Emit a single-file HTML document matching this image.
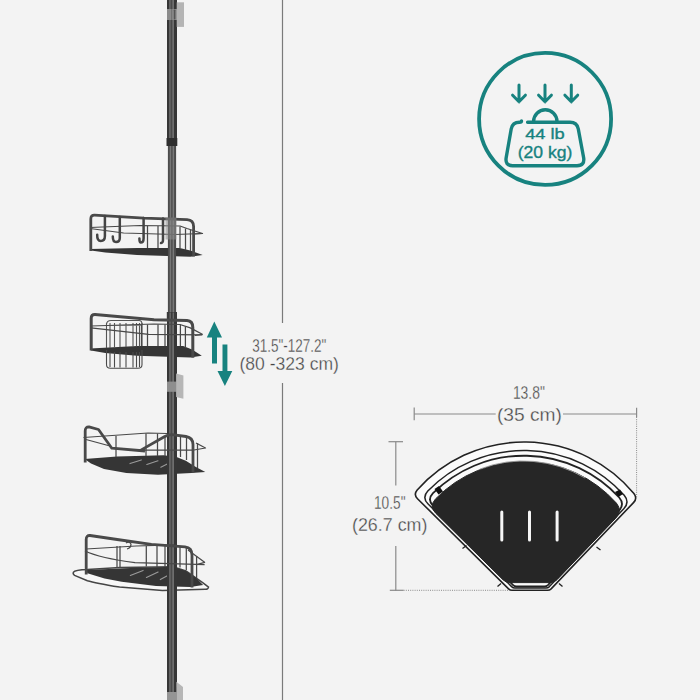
<!DOCTYPE html>
<html><head><meta charset="utf-8">
<style>
html,body{margin:0;padding:0;background:#f3f3f3;}
body{width:700px;height:700px;overflow:hidden;}
svg{display:block;}
text{font-family:"Liberation Sans",sans-serif;}
</style></head>
<body>
<svg width="700" height="700" viewBox="0 0 700 700">
<rect x="0" y="0" width="700" height="700" fill="#f3f3f3"/>
<!-- vertical dimension line -->
<g stroke="#7a7a7a" stroke-width="1.2">
<line x1="282.5" y1="0" x2="282.5" y2="323"/>
<line x1="282.5" y1="383" x2="282.5" y2="700"/>
</g>

<!-- trays -->
<g fill="#353535">
<path d="M90.2,248.9 L137,248 L179.7,248 L190.3,250.6 L202.7,255 L190.3,256.8 L137,255 L105.3,252.4 L91,250.6 Z"/>
<path d="M90.2,348.6 L137,346 L183.2,346 L192,349.5 L201.8,355.7 L190.3,357.5 L137,355.7 L105.3,353 L91,350.4 Z"/>
<path d="M84.6,459 L117,456.5 L163.6,455.2 L176.6,457 L185.8,460.8 L195,466.4 L205.3,472 L191.4,472.9 L158,474.7 L126.4,472.9 L104,469 L91,463.6 Z"/>
</g>
<!-- basket 4 ring + tray -->
<path d="M73.5,572.1 Q75,570 87.4,569.6 L120,567.5 L173,566.8 L186,571 L203,582.9 L208.5,587.1 Q208,589.5 205.3,589.3 L162.4,590.4 L119.6,587.1 Q95,583 87.4,580.7 L74.6,575.4 Q72.5,574 73.5,572.1 Z" stroke="#454545" stroke-width="1.5" fill="#f7f7f7"/>
<path d="M86.4,570 L130.3,567.9 L173,566.8 L186,571 L196.7,578.6 L203.1,585 L190.3,587.1 L156,586 L121.7,581.8 L104.6,578.6 L87.4,573.2 Z" fill="#353535"/>

<!-- slot highlights -->
<g stroke="#9a9a9a" stroke-width="1.1" stroke-linecap="round">
<path d="M130,463.6 L141.3,459.9 M146.8,464.5 L158,460.8 M160.8,467.3 L168.2,463.6"/>
<path d="M130.3,575.4 L143.1,570.4 M146.4,577.5 L158.1,572.1 M160.3,579.6 L167.8,575.4"/>
</g>

<!-- pole -->
<g id="pole">
<rect x="167" y="0" width="10" height="146" fill="#363636"/>
<rect x="169.2" y="0" width="1.6" height="146" fill="#6e6e6e"/>
<rect x="170.8" y="0" width="1.4" height="146" fill="#4a4a4a"/>
<rect x="172.2" y="0" width="1.8" height="146" fill="#6e6e6e"/>
<rect x="167.9" y="146" width="8.2" height="166" fill="#4b4b4b"/>
<rect x="169.7" y="146" width="1.5" height="166" fill="#767676"/>
<rect x="172.6" y="146" width="1.5" height="166" fill="#787878"/>
<rect x="167" y="312" width="10" height="388" fill="#363636"/>
<rect x="169.2" y="312" width="1.6" height="388" fill="#6e6e6e"/>
<rect x="170.8" y="312" width="1.4" height="388" fill="#4a4a4a"/>
<rect x="172.2" y="312" width="1.8" height="388" fill="#6e6e6e"/>
<rect x="166.5" y="138" width="10.8" height="8" fill="#2e2e2e"/>
<rect x="166.8" y="312" width="10.2" height="8" fill="#3a3a3a"/>
<rect x="169.5" y="312.5" width="1.4" height="7" fill="#6a6a6a"/>
<rect x="172.6" y="312.5" width="1.4" height="7" fill="#6a6a6a"/>
<rect x="167" y="9" width="10" height="11" fill="#8c8c8c"/>
<rect x="171.2" y="9" width="1" height="11" fill="#6e6e6e"/>
<rect x="173.8" y="9.5" width="1.6" height="10" fill="#555" rx="0.8"/>
<rect x="176.7" y="2.3" width="7.3" height="24.6" fill="#b4b4b4"/>
<rect x="167" y="381.6" width="9.5" height="10.2" fill="#8e8e8e"/>
<polygon points="176.1,373.4 183.4,375.5 183.4,398.7 176.1,397" fill="#b6b6b6"/>
<rect x="167" y="692" width="9.5" height="8" fill="#959595"/>
<polygon points="176.4,681.7 183,686.9 183,700 176.4,700" fill="#b6b6b6"/>
</g>

<!-- ===== BASKET 1 rails ===== -->
<g stroke="#484848" stroke-width="1.25" fill="none" stroke-linejoin="round">
<path d="M90,227.5 L140,225.5 L180,226 L187,228.5 L202.5,233.5 L195,234"/>
<path d="M90,228.5 L123.6,233 L175,234.5 L202.5,233.5"/>
<path d="M147.5,226 V248 M158,226 V248 M180,226.5 V248.5 M185.5,228.5 V250 M190.5,230 V251"/>
</g>
<path d="M90.8,251 V219 Q90.8,215 94.5,215.1 L144,218.2 L187,219.6 Q193.6,220 193.6,226.5 V256.5" stroke="#494949" stroke-width="2.8" fill="none"/>
<g stroke="#444" stroke-width="2.5" fill="none" stroke-linecap="round">
<path d="M104.9,216 V236 Q104.9,241 100.8,241 Q97,241 97.2,234.8"/>
<path d="M119.8,217 V238 Q119.8,242 116,242 Q112.8,242 112.8,236.5"/>
<path d="M143.6,218 V238.2 Q143.6,242.5 140.8,242.5 Q139.4,242.5 139.4,238.5"/>
<path d="M163,218.6 V239.5 Q163,243.2 161,243"/>
</g>
<rect x="165.5" y="217.5" width="11" height="22" fill="#8c8c8c" opacity="0.55"/>

<!-- ===== BASKET 2 rails ===== -->
<g stroke="#4a4a4a" stroke-width="1.1" fill="none">
<path d="M106.5,350 V364.5 Q106.5,368.3 110.5,368.3 H138 Q142,368.3 142,364.5 V350"/>
<path d="M110,352 V367 M114.5,352 V367.5 M120,352 V367.5 M126,352 V367.5 M133,352 V367.5 M136.5,352 V367.5 M139.5,352 V367"/>
</g>
<g stroke="#555" stroke-width="1.1" fill="none">
<path d="M106.5,323 V348 M110,323 V348 M114.5,323 V348 M120,323 V347 M126,323 V347 M133,323 V346.5 M136.5,323 V346.5 M139.5,323 V346.5 M142,323 V346"/>
<path d="M106.5,324 Q107,320.5 111,320.5 H139 Q142,320.5 142,324"/>
<path d="M107,325.5 H142" stroke="#777" stroke-width="0.8"/>
</g>
<g stroke="#484848" stroke-width="1.25" fill="none" stroke-linejoin="round">
<path d="M91,326 L154,324 L180,324.5 L190.3,327.9 L202.3,334.3 L195,335.5"/>
<path d="M91,327.8 L148.6,334.3 L202.3,334.8"/>
<path d="M141.5,324.5 V346 M147.5,324.5 V346 M158,324.5 V346 M165,324.5 V346 M180.4,324.5 V346 M185.4,326.5 V348"/>
</g>
<path d="M91.2,350.5 V318.5 Q91.2,314.3 95,314.4 L154,319.8 L187,320.6 Q192.8,321 192.8,327.5 V357.8" stroke="#494949" stroke-width="3" fill="none"/>

<!-- ===== BASKET 3 rails ===== -->
<g stroke="#484848" stroke-width="1.25" fill="none" stroke-linejoin="round">
<path d="M83.5,437.5 L148,433 L167,433.5"/>
<path d="M86,439.5 L110,446"/>
<path d="M140,450 L194,450 L205.5,448 L196,443"/>
<path d="M116,436 V457 M146,433.5 V456 M157.5,433.5 V456 M165,436 V456 M180.5,435 V457 M186.5,436 V460 M197.5,443 V468"/>
</g>
<path d="M85.2,462.5 V431 Q85.2,426.8 89,426.9 L98.5,429.5 L111.8,448.2 L145,451 M140,450.6 L164.3,436.8 Q168,434.6 172,434.6 L186,436.5 Q193,437.8 193,444.5 V472.5" stroke="#494949" stroke-width="2.8" fill="none" stroke-linejoin="round"/>

<!-- ===== BASKET 4 rails ===== -->
<g stroke="#484848" stroke-width="1.25" fill="none" stroke-linejoin="round">
<path d="M86,549 L136,546 L174,544.8"/>
<path d="M85,551 Q100,558 135,562.7 L204.6,564.6"/>
<path d="M188,550 L195.4,555.4 L204.6,562.3 L196.6,564.6"/>
<path d="M117,546 V568 M120,546 V568 M146.3,546 V566.5 M157,546 V567 M165,546 V567 M180,547 V567.5 M186.3,547.5 V570 M196.6,556 V578"/>
<path d="M126,543 Q129,541 131,544 Q131,548 127,549"/>
</g>
<path d="M86.2,574.5 V539.5 Q86.2,535.3 90,535.5 Q120,540 151.4,544.4 L185,546.8 Q192,547.6 192,555 V587.6" stroke="#494949" stroke-width="2.8" fill="none"/>
<!-- teal double arrow -->
<g fill="#17827f">
<polygon points="214.3,321.5 222,337.5 217,337.5 217,363.6 212,363.6 212,337.5 206.8,337.5"/>
<polygon points="224.9,386 232.3,371 227.4,371 227.4,344.5 222.5,344.5 222.5,371 217.5,371"/>
</g>
<!-- height text -->
<g fill="#444" font-size="18" stroke="#f3f3f3" stroke-width="0.3">
<text x="252.3" y="351.6" textLength="74" lengthAdjust="spacingAndGlyphs">31.5"-127.2"</text>
<text x="239.4" y="370.4" textLength="99.5" lengthAdjust="spacingAndGlyphs">(80 -323 cm)</text>
</g>

<!-- load icon -->
<circle cx="545.1" cy="118.9" r="66" stroke="#17827f" fill="none" stroke-width="3.8"/>
<g stroke="#17827f" fill="none" stroke-width="3" stroke-linecap="round" stroke-linejoin="round">
<path d="M519,85 V101.5 M512.6,95.2 L519,101.8 L525.4,95.2"/>
<path d="M545,85 V101.5 M538.6,95.2 L545,101.8 L551.4,95.2"/>
<path d="M571.3,85 V101.5 M564.9,95.2 L571.3,101.8 L577.7,95.2"/>
</g>
<g stroke="#17827f" fill="none" stroke-width="3.4" stroke-linecap="round" stroke-linejoin="round">
<path d="M533.6,121.5 A11.7,11.7 0 0 1 557,121.5"/>
<path d="M527.6,122.3 H570 Q577,122.3 578.3,129 L583.6,157.5 Q585,165.7 577,165.7 H512.5 Q504.8,165.7 506.2,157.5 L511.2,129 Q512.5,122.3 519.5,122.3 Q521.5,122.3 521.5,121"/>
</g>
<g fill="#17827f" stroke="#17827f" stroke-width="0.35">
<text x="525.2" y="139.1" font-size="15.5" textLength="39.6" lengthAdjust="spacingAndGlyphs">44 lb</text>
<text x="517.7" y="157.5" font-size="17" textLength="54.7" lengthAdjust="spacingAndGlyphs">(20 kg)</text>
</g>

<!-- width dimension -->
<g stroke="#8a8a8a" stroke-width="1.2" fill="none">
<line x1="414.2" y1="414" x2="495.7" y2="414"/>
<line x1="563" y1="414" x2="636.6" y2="414"/>
<line x1="414.2" y1="407.4" x2="414.2" y2="420.3"/>
<line x1="636.6" y1="407.7" x2="636.6" y2="417"/>
<line x1="636.6" y1="417" x2="636.6" y2="497.7" stroke-dasharray="1,1.2" stroke-width="1"/>
<line x1="395.8" y1="441.7" x2="395.8" y2="485.4"/>
<line x1="395.8" y1="546" x2="395.8" y2="590.8"/>
<line x1="388.5" y1="441.7" x2="403" y2="441.7"/>
<line x1="389.8" y1="590.3" x2="403.6" y2="590.3"/>
<line x1="403.6" y1="590.3" x2="509" y2="590.3" stroke-dasharray="1,1.2" stroke-width="1"/>
</g>
<g fill="#444" font-size="18" stroke="#f3f3f3" stroke-width="0.3">
<text x="512.9" y="399.4" textLength="32" lengthAdjust="spacingAndGlyphs">13.8"</text>
<text x="496.9" y="420.7" textLength="65" lengthAdjust="spacingAndGlyphs">(35 cm)</text>
<text x="374" y="508.9" textLength="31.5" lengthAdjust="spacingAndGlyphs">10.5"</text>
<text x="352" y="530.8" textLength="75.4" lengthAdjust="spacingAndGlyphs">(26.7 cm)</text>
</g>

<!-- top view basket -->
<g stroke="#222" fill="none" stroke-linejoin="round">
<path d="M417.5,498.7 Q413.3,494.5 417.2,490.0 A143.0,143.0 0 0 1 633.9,493.5 Q637.7,498.2 633.5,502.6 L551.1,588.9 Q549.7,590.3 547.7,590.3 L512.0,590.3 Q510.0,590.3 508.6,588.9 Z" stroke-width="1.6" fill="#fbfbfb"/>
<path d="M428.1,504.0 Q421.7,497.6 427.8,491.0 A134.5,134.5 0 0 1 624.2,495.3 Q630.0,502.2 623.8,508.7 L549.4,586.6 Q548.0,588.0 546.0,588.0 L515.0,588.0 Q513.0,588.0 511.6,586.6 Z" stroke-width="1.5"/>
<path d="M433.2,506.0 Q426.8,499.7 433.0,493.2 A129.3,129.3 0 0 1 619.2,497.5 Q625.0,504.3 618.8,510.8 L547.9,585.1 Q546.5,586.5 544.5,586.5 L516.5,586.5 Q514.5,586.5 513.1,585.1 Z" stroke-width="1.8"/>
</g>
<path d="M435.9,513.4 Q428.8,506.4 435.5,498.9 A123.5,123.5 0 0 1 616.4,503.1 Q622.7,510.8 615.8,518.1 L557.0,579.7 Q554.2,582.6 550.2,582.6 L509.8,582.6 Q505.8,582.6 503.0,579.8 Z" fill="#262626" stroke="#262626" stroke-width="1" stroke-linejoin="round"/>
<path d="M480,469 A120.5,120.5 0 0 1 585,478" stroke="#9a9a9a" stroke-width="0.9" fill="none"/>
<g stroke="#222" stroke-width="1.3"><path d="M466.5,545.5 L462.5,548.5 M596.5,547 L600.5,550 M501,583.5 L497.5,586.5 M559,583.5 L562.5,586.5"/></g>
<g fill="#111">
<polygon points="434.5,489 439,486 443,491.5 438.5,494.5"/>
<polygon points="615,492 620,489.5 623,494 618.5,497"/>
</g>
<g stroke="#f5f5f5" stroke-width="3" stroke-linecap="round">
<line x1="501.8" y1="512" x2="501.8" y2="540"/>
<line x1="529.5" y1="512" x2="529.5" y2="540"/>
<line x1="557.1" y1="512" x2="557.1" y2="540"/>
</g>
</svg>
</body></html>
